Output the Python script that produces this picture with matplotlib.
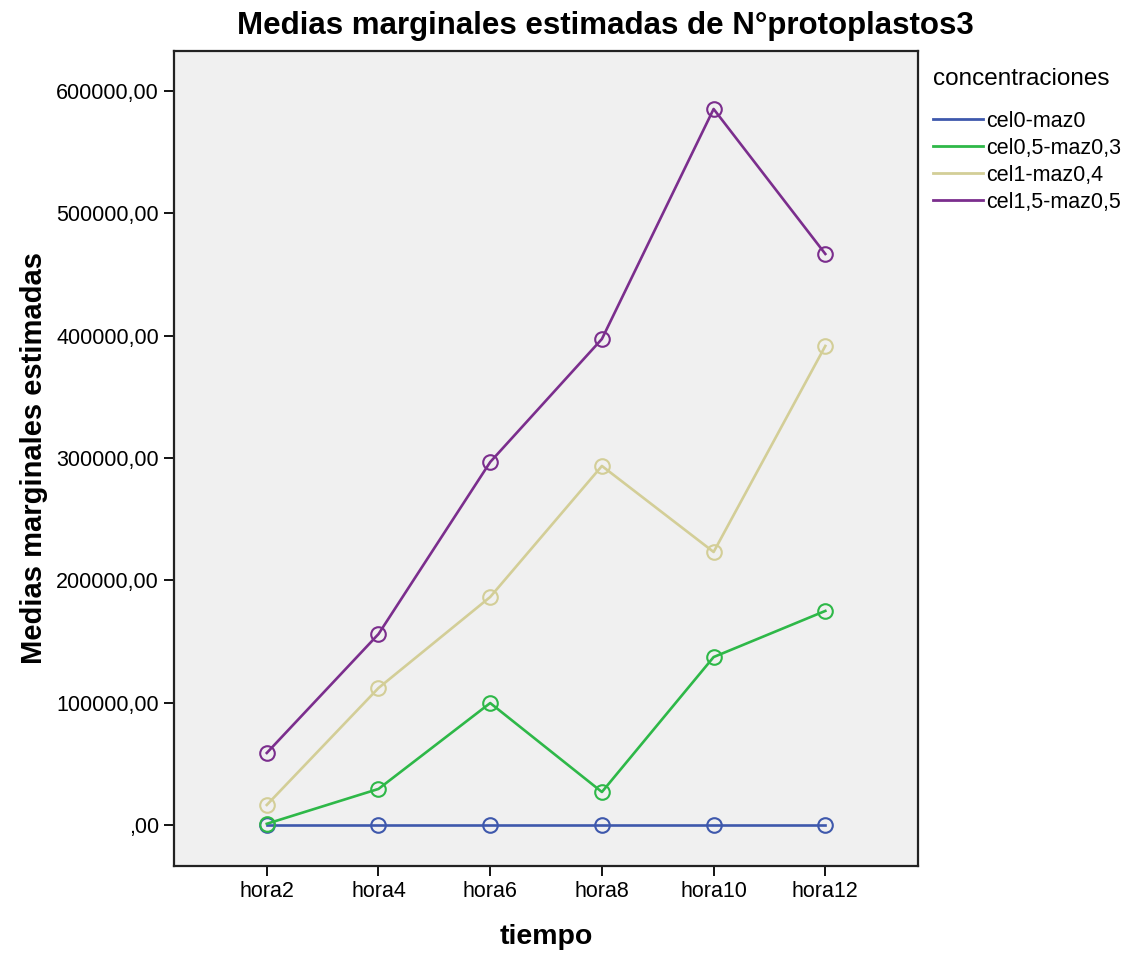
import matplotlib
matplotlib.use("Agg")
import matplotlib.pyplot as plt
from matplotlib.ticker import FuncFormatter

plt.rcParams['font.family'] = ['Liberation Sans', 'DejaVu Sans']

# data
horas = ["hora2", "hora4", "hora6", "hora8", "hora10", "hora12"]
series_names = ["cel0-maz0", "cel0,5-maz0,3", "cel1-maz0,4", "cel1,5-maz0,5"]
cel0_maz0 = [0, 0, 0, 0, 0, 0]
cel05_maz03 = [1000, 29500, 99700, 27000, 137300, 175000]
cel1_maz04 = [16400, 112000, 186400, 293500, 223200, 391600]
cel15_maz05 = [58900, 156100, 296700, 397300, 585300, 466800]
colors = ["#3E58AC", "#2EB848", "#D3CE97", "#7B2E8D"]
yticks = [0, 100000, 200000, 300000, 400000, 500000, 600000]

fig = plt.figure(figsize=(11.23, 9.55), dpi=100)
ax = fig.add_axes([0.155, 0.0932, 0.6625, 0.8534])
ax.set_facecolor("#F0F0F0")

x = list(range(len(horas)))
for name, vals, c in zip(series_names, [cel0_maz0, cel05_maz03, cel1_maz04, cel15_maz05], colors):
    ax.plot(x, vals, color=c, lw=1.9, marker="o", markersize=10.5,
            markerfacecolor="none", markeredgecolor=c, markeredgewidth=1.5, label=name)

ax.set_xlim(-0.83, 5.83)
ax.set_ylim(-33500, 632700)
ax.set_xticks(x)
ax.set_xticklabels(horas)
ax.set_yticks(yticks)
ax.yaxis.set_major_formatter(FuncFormatter(
    lambda v, p: ",00" if v == 0 else "%d,00" % v))
ax.tick_params(direction="out", length=7, width=1.3, labelsize=15.5, colors="black", pad=4)

for s in ax.spines.values():
    s.set_linewidth(1.6)
    s.set_color("#222222")

# title sits centred over plot + legend, like the SPSS output
fig.text(0.539, 0.973, "Medias marginales estimadas de N°protoplastos3",
         fontsize=22.5, fontweight="bold", ha="center", va="center")
ax.set_xlabel("tiempo", fontsize=20.5, fontweight="bold", labelpad=16)
ax.set_ylabel("Medias marginales estimadas", fontsize=21, fontweight="bold", labelpad=6)

leg = ax.legend(title="concentraciones", loc="upper left", bbox_to_anchor=(1.0, 0.998),
                frameon=False, fontsize=15.5, title_fontsize=17.5, handlelength=2.3,
                handletextpad=0.15, labelspacing=0.28, borderaxespad=0.3)
leg._legend_box.align = "left"
leg._legend_box.sep = 15
for h in leg.legend_handles:
    h.set_marker("")
    h.set_linewidth(2)

fig.savefig("out.png", dpi=100)
